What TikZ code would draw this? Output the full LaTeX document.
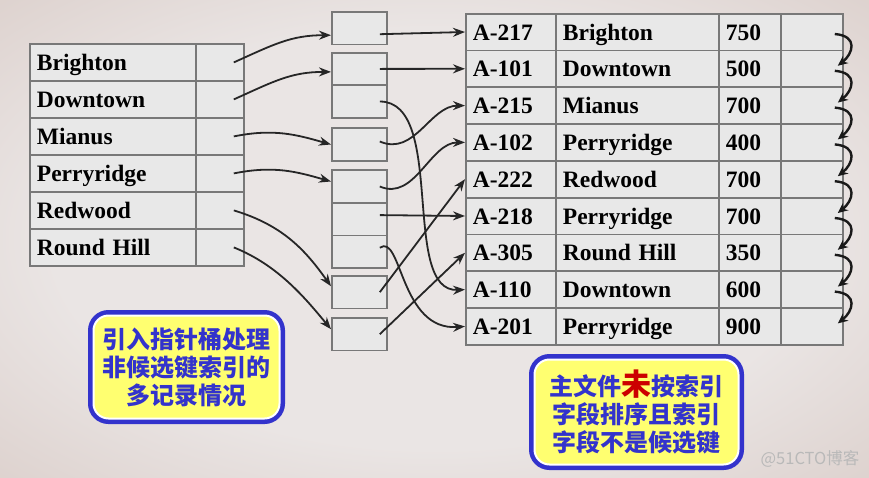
\documentclass[tikz,border=0pt]{standalone}
\usepackage{fontspec}
\setmainfont{Liberation Serif}
\newfontfamily\cjkfont{Noto Sans CJK SC}
\usepackage{tikz}
\usetikzlibrary{arrows.meta}
\definecolor{cellgray}{RGB}{232,232,232}
\definecolor{rulegray}{RGB}{120,120,120}
\definecolor{noteblue}{RGB}{51,51,204}
\definecolor{noteyellow}{RGB}{255,255,112}
\definecolor{notered}{RGB}{204,0,0}
\definecolor{bgin}{RGB}{234,229,228}
\definecolor{bgmid}{RGB}{210,193,187}
\definecolor{bgout}{RGB}{140,95,70}
\pgfdeclareradialshading{bgglow}{\pgfpoint{0bp}{0bp}}{color(0bp)=(bgin); color(22bp)=(bgin); color(48bp)=(bgmid); color(71bp)=(bgout)}
\tikzstyle{cell} = [rectangle, anchor=north west, inner xsep=7pt, inner ysep=0pt, text height=16pt, text depth=0pt, align=left, draw=rulegray, line width=1.8pt, fill=cellgray, font=\bfseries\fontsize{23.5}{24}\selectfont]
\tikzstyle{namecell} = [cell, text width=152pt, minimum height=37pt]
\tikzstyle{ptrcell} = [cell, minimum width=48pt, minimum height=37pt]
\tikzstyle{bucketcell} = [cell, minimum width=55pt, minimum height=32.6pt]
\tikzstyle{acctcell} = [cell, text width=76pt, minimum height=36.8pt]
\tikzstyle{branchcell} = [cell, text width=149pt, minimum height=36.8pt]
\tikzstyle{balcell} = [cell, text width=48pt, minimum height=36.8pt]
\tikzstyle{linkcell} = [cell, minimum width=62pt, minimum height=36.8pt]
\tikzstyle{arrow} = [line width=1.8pt, draw=black!85, -{Stealth[length=12pt,width=9pt]}]
\tikzstyle{chain} = [line width=2.4pt, draw=black!90, -{Stealth[length=10pt,width=9pt]}]
\tikzstyle{note} = [rectangle, rounded corners=15pt, draw=white, line width=2pt, fill=noteyellow, preaction={draw=noteblue, line width=11pt}, text=noteblue, align=center, font=\cjkfont\bfseries\fontsize{24}{28}\selectfont]

\begin{document}
\begin{tikzpicture}[x=1pt, y=-1pt]
    \useasboundingbox (0,0) rectangle (869,477);
    \shade[shading=bgglow] (0,0) rectangle (869,477);

    % index on branch-name
    \node (name1) [namecell] at (29,43) {Brighton};    \node (ptr1) [ptrcell] at (195,43) {};
    \node (name2) [namecell] at (29,80) {Downtown};    \node (ptr2) [ptrcell] at (195,80) {};
    \node (name3) [namecell] at (29,117) {Mianus};     \node (ptr3) [ptrcell] at (195,117) {};
    \node (name4) [namecell] at (29,154) {Perryridge}; \node (ptr4) [ptrcell] at (195,154) {};
    \node (name5) [namecell] at (29,191) {Redwood};    \node (ptr5) [ptrcell] at (195,191) {};
    \node (name6) [namecell] at (29,228) {Round Hill}; \node (ptr6) [ptrcell] at (195,228) {};

    % buckets
    \node (bucket1) [bucketcell] at (331,11) {};
    \node (bucket2a) [bucketcell] at (331,51.7) {};
    \node (bucket2b) [bucketcell] at (331,84.3) {};
    \node (bucket3) [bucketcell] at (331,127.3) {};
    \node (bucket4a) [bucketcell] at (331,169.3) {};
    \node (bucket4b) [bucketcell] at (331,201.9) {};
    \node (bucket4c) [bucketcell] at (331,234.5) {};
    \node (bucket5) [bucketcell] at (331,275) {};
    \node (bucket6) [bucketcell] at (331,317) {};

    % account file
    \node (acct1) [acctcell] at (465,12.7) {A-217};  \node (branch1) [branchcell] at (555,12.7) {Brighton};   \node (bal1) [balcell] at (718,12.7) {750};  \node (link1) [linkcell] at (780,12.7) {};
    \node (acct2) [acctcell] at (465,49.5) {A-101};  \node (branch2) [branchcell] at (555,49.5) {Downtown};   \node (bal2) [balcell] at (718,49.5) {500};  \node (link2) [linkcell] at (780,49.5) {};
    \node (acct3) [acctcell] at (465,86.3) {A-215};  \node (branch3) [branchcell] at (555,86.3) {Mianus};     \node (bal3) [balcell] at (718,86.3) {700};  \node (link3) [linkcell] at (780,86.3) {};
    \node (acct4) [acctcell] at (465,123.1) {A-102}; \node (branch4) [branchcell] at (555,123.1) {Perryridge}; \node (bal4) [balcell] at (718,123.1) {400}; \node (link4) [linkcell] at (780,123.1) {};
    \node (acct5) [acctcell] at (465,159.9) {A-222}; \node (branch5) [branchcell] at (555,159.9) {Redwood};    \node (bal5) [balcell] at (718,159.9) {700}; \node (link5) [linkcell] at (780,159.9) {};
    \node (acct6) [acctcell] at (465,196.7) {A-218}; \node (branch6) [branchcell] at (555,196.7) {Perryridge}; \node (bal6) [balcell] at (718,196.7) {700}; \node (link6) [linkcell] at (780,196.7) {};
    \node (acct7) [acctcell] at (465,233.5) {A-305}; \node (branch7) [branchcell] at (555,233.5) {Round Hill}; \node (bal7) [balcell] at (718,233.5) {350}; \node (link7) [linkcell] at (780,233.5) {};
    \node (acct8) [acctcell] at (465,270.3) {A-110}; \node (branch8) [branchcell] at (555,270.3) {Downtown};   \node (bal8) [balcell] at (718,270.3) {600}; \node (link8) [linkcell] at (780,270.3) {};
    \node (acct9) [acctcell] at (465,307.1) {A-201}; \node (branch9) [branchcell] at (555,307.1) {Perryridge}; \node (bal9) [balcell] at (718,307.1) {900}; \node (link9) [linkcell] at (780,307.1) {};

    % index -> buckets
    \draw[arrow] ([xshift=-11pt]ptr1.east) .. controls +(40,-18) and +(-40,0) .. ([yshift=-7pt]bucket1.west);
    \draw[arrow] ([xshift=-11pt]ptr2.east) .. controls +(40,-18) and +(-40,0) .. ([yshift=-3pt]bucket2a.west);
    \draw[arrow] ([xshift=-11pt]ptr3.east) .. controls +(40,-8) and +(-35,-10) .. (bucket3.west);
    \draw[arrow] ([xshift=-11pt]ptr4.east) .. controls +(40,-8) and +(-35,-10) .. ([yshift=5pt]bucket4a.west);
    \draw[arrow] ([xshift=-11pt]ptr5.east) .. controls +(50,15) and +(-25,-35) .. ([yshift=6pt]bucket5.west);
    \draw[arrow] ([xshift=-11pt]ptr6.east) .. controls +(45,18) and +(-25,-30) .. ([yshift=5pt]bucket6.west);

    % buckets -> records
    \draw[arrow] ([xshift=-8pt,yshift=-6pt]bucket1.east) -- (acct1.west);
    \draw[arrow] ([xshift=-8pt]bucket2a.east) -- (acct2.west);
    \draw[arrow] ([xshift=-8pt]bucket2b.east) .. controls +(67,0) and +(-65,3) .. (acct8.west);
    \draw[arrow] ([xshift=-8pt,yshift=3pt]bucket3.east) .. controls +(35,15) and +(-35,0) .. (acct3.west);
    \draw[arrow] ([xshift=-8pt]bucket4a.east) .. controls +(35,15) and +(-35,0) .. (acct4.west);
    \draw[arrow] ([xshift=-8pt,yshift=4pt]bucket4b.east) -- (acct6.west);
    \draw[arrow] ([xshift=-8pt,yshift=4pt]bucket4c.east) .. controls +(22,-15) and +(-65,5) .. (acct9.west);
    \draw[arrow] ([xshift=-8pt]bucket5.east) -- (acct5.west);
    \draw[arrow] ([xshift=-8pt]bucket6.east) -- (acct7.west);

    % record chain
    \draw[chain] ([xshift=-9pt,yshift=-2pt]link1.east) .. controls +(24,2) and +(15,-12) .. ([xshift=-6pt,yshift=3pt]link2.east);
    \draw[chain] ([xshift=-9pt,yshift=-2pt]link2.east) .. controls +(24,2) and +(15,-12) .. ([xshift=-6pt,yshift=3pt]link3.east);
    \draw[chain] ([xshift=-9pt,yshift=-2pt]link3.east) .. controls +(24,2) and +(15,-12) .. ([xshift=-6pt,yshift=3pt]link4.east);
    \draw[chain] ([xshift=-9pt,yshift=-2pt]link4.east) .. controls +(24,2) and +(15,-12) .. ([xshift=-6pt,yshift=3pt]link5.east);
    \draw[chain] ([xshift=-9pt,yshift=-2pt]link5.east) .. controls +(24,2) and +(15,-12) .. ([xshift=-6pt,yshift=3pt]link6.east);
    \draw[chain] ([xshift=-9pt,yshift=-2pt]link6.east) .. controls +(24,2) and +(15,-12) .. ([xshift=-6pt,yshift=3pt]link7.east);
    \draw[chain] ([xshift=-9pt,yshift=-2pt]link7.east) .. controls +(24,2) and +(15,-12) .. ([xshift=-6pt,yshift=3pt]link8.east);
    \draw[chain] ([xshift=-9pt,yshift=-2pt]link8.east) .. controls +(24,2) and +(15,-12) .. ([xshift=-6pt,yshift=3pt]link9.east);

    % notes
    \node (note_bucket) [note, minimum width=186pt, minimum height=103pt] at (186.5,367) {引入指针桶处理\\非候选键索引的\\多记录情况};
    \node (note_file) [note, minimum width=204pt, minimum height=105pt] at (636.5,412) {主文件\textcolor{notered}{\fontsize{30}{28}\selectfont 未}按索引\\字段排序且索引\\字段不是候选键};

    \node (watermark) [text=gray!55, font=\cjkfont\fontsize{16.5}{17}\selectfont] at (810,459) {@51CTO博客};
\end{tikzpicture}
\end{document}
